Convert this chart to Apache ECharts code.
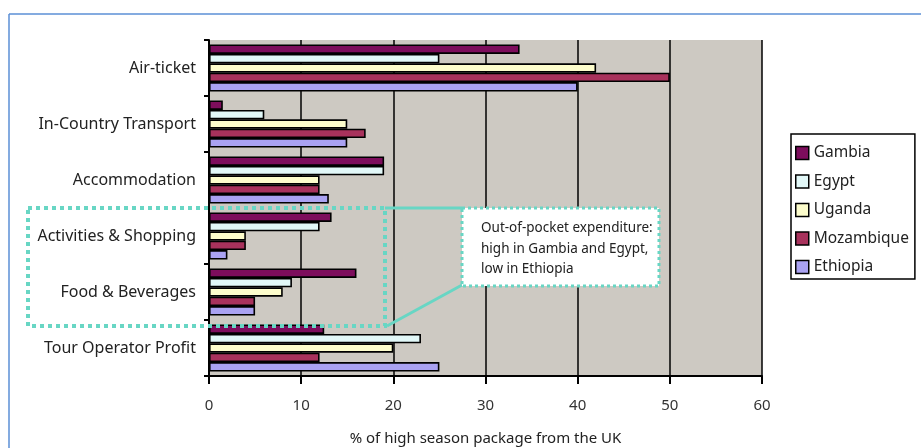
<!DOCTYPE html>
<html lang="en">
<head>
    <meta charset="UTF-8">
    <title>Tourism expenditure</title>
    <style>
        html, body { margin: 0; padding: 0; background: #fff; }
        #chart { width: 921px; height: 448px; }
    </style>
    <script src="https://cdn.jsdelivr.net/npm/echarts@6/dist/echarts.min.js"></script>
</head>
<body>
    <div id="chart"></div>
    <script>
        // categories, top to bottom
        var categories = ['Air-ticket', 'In-Country Transport', 'Accommodation',
            'Activities & Shopping', 'Food & Beverages', 'Tour Operator Profit'];
        var countries = ['Gambia', 'Egypt', 'Uganda', 'Mozambique', 'Ethiopia'];
        var gambia     = [33.7, 1.5, 19, 13.3, 16, 12.5];
        var egypt      = [25, 6, 19, 12, 9, 23];
        var uganda     = [42, 15, 12, 4, 8, 20];
        var mozambique = [50, 17, 12, 4, 5, 12];
        var ethiopia   = [40, 15, 13, 2, 5, 25];
        var xTicks = [0, 10, 20, 30, 40, 50, 60];

        var colors = ['#7d0d5c', '#e2f8f8', '#fdfdcc', '#a8325c', '#aaa2f2'];
        var values = [gambia, egypt, uganda, mozambique, ethiopia];
        var font = 'Noto Sans';
        var teal = '#68d6c4';

        var series = countries.map(function (name, i) {
            return {
                name: name,
                type: 'bar',
                data: values[i],
                barGap: '0%',
                barCategoryGap: '16%',
                itemStyle: { color: colors[i], borderColor: '#000', borderWidth: 1.6 },
                emphasis: { disabled: true }
            };
        });

        var chart = echarts.init(document.getElementById('chart'));
        chart.setOption({
            animation: false,
            textStyle: { fontFamily: font },
            grid: {
                left: 209, right: 159, top: 40, bottom: 72,
                outerBoundsMode: 'none',
                show: true, backgroundColor: '#cdc9c2', borderWidth: 0
            },
            legend: {
                orient: 'vertical',
                left: 791, top: 134,
                padding: [11, 6, 4, 4],
                itemGap: 12.5,
                itemWidth: 13, itemHeight: 13,
                icon: 'rect',
                backgroundColor: '#fff',
                borderColor: '#000',
                borderWidth: 1.5,
                borderRadius: 0,
                itemStyle: { borderColor: '#000', borderWidth: 1.5 },
                textStyle: { fontFamily: font, fontSize: 15.5, color: '#222' },
                data: countries
            },
            xAxis: {
                type: 'value',
                min: xTicks[0], max: xTicks[xTicks.length - 1], interval: 10,
                name: '% of high season package from the UK',
                nameLocation: 'middle', nameGap: 55,
                nameTextStyle: { fontFamily: font, fontSize: 15, color: '#222' },
                axisLine: { show: true, lineStyle: { color: '#000', width: 2 } },
                axisTick: { show: true, length: 8, lineStyle: { color: '#000', width: 2 } },
                axisLabel: { fontFamily: font, fontSize: 15, color: '#333', margin: 22 },
                splitLine: { show: true, lineStyle: { color: '#000', width: 1.5 } }
            },
            yAxis: {
                type: 'category',
                data: categories,
                inverse: true,
                axisLine: { show: true, lineStyle: { color: '#000', width: 2 } },
                axisTick: { show: true, length: 5, lineStyle: { color: '#000', width: 2 } },
                axisLabel: { fontFamily: font, fontSize: 16, color: '#222', margin: 13 }
            },
            series: series,
            graphic: [
                // page frame
                { type: 'line', shape: { x1: 9, y1: 14, x2: 921, y2: 14 },
                  style: { stroke: '#5b8fd6', lineWidth: 1.5 }, z: 100 },
                { type: 'line', shape: { x1: 9, y1: 14, x2: 9, y2: 448 },
                  style: { stroke: '#5b8fd6', lineWidth: 1.5 }, z: 100 },
                // dotted highlight box
                { type: 'rect', shape: { x: 28, y: 208, width: 357, height: 118 },
                  style: { fill: 'none', stroke: teal, lineWidth: 4, lineDash: [4, 4] }, z: 100 },
                // connectors
                { type: 'line', shape: { x1: 385, y1: 208, x2: 462, y2: 208 },
                  style: { stroke: teal, lineWidth: 3 }, z: 100 },
                { type: 'line', shape: { x1: 462, y1: 285, x2: 387, y2: 326 },
                  style: { stroke: teal, lineWidth: 3 }, z: 100 },
                // callout
                { type: 'rect', shape: { x: 462, y: 208, width: 197, height: 78 },
                  style: { fill: '#fff', stroke: teal, lineWidth: 3, lineDash: [3, 3] }, z: 100 },
                { type: 'text', x: 481, y: 218, z: 101,
                  style: { text: 'Out-of-pocket expenditure:\nhigh in Gambia and Egypt,\nlow in Ethiopia',
                           font: '13.5px "Noto Sans"', fill: '#222', lineHeight: 20.5 } }
            ]
        });
    </script>
</body>
</html>
